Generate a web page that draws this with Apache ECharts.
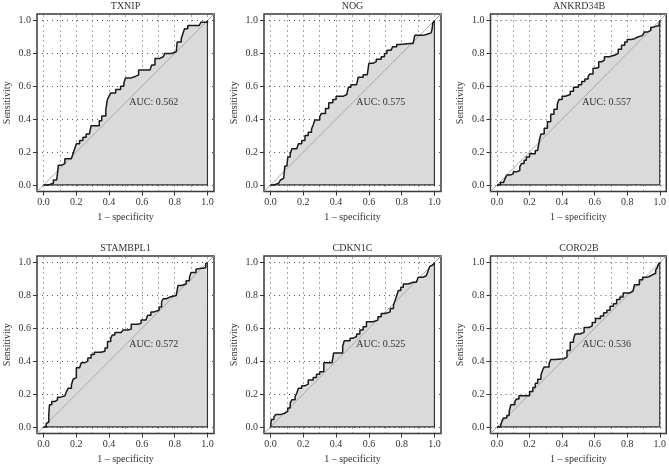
<!DOCTYPE html>
<html><head><meta charset="utf-8">
<script src="https://cdn.jsdelivr.net/npm/echarts@6/dist/echarts.min.js"></script>
<style>html,body{margin:0;padding:0;background:#fff}#c{width:669px;height:469px}</style>
</head><body><div id="c"></div>
<script>
const genes = ['TXNIP', 'NOG', 'ANKRD34B', 'STAMBPL1', 'CDKN1C', 'CORO2B'];
const aucLabels = ['AUC: 0.562', 'AUC: 0.575', 'AUC: 0.557', 'AUC: 0.572', 'AUC: 0.525', 'AUC: 0.536'];
const tickValues = [0, 0.2, 0.4, 0.6, 0.8, 1.0];
const gridXValues = [0, 0.1, 0.2, 0.3, 0.4, 0.5, 0.6, 0.7, 0.8, 0.9, 1.0];
const gridYValues = [0, 0.2, 0.4, 0.6, 0.8, 1.0];

const TXNIP_fpr = [0,0.03,0.06,0.08,0.085,0.09,0.11,0.13,0.17,0.18,0.19,0.2,0.22,0.24,0.26,0.28,0.29,0.32,0.34,0.355,0.38,0.39,0.40,0.41,0.44,0.47,0.49,0.50,0.53,0.56,0.58,0.65,0.66,0.68,0.71,0.73,0.74,0.78,0.79,0.81,0.815,0.84,0.85,0.86,0.88,0.95,0.96,1];
const TXNIP_tpr = [0,0.01,0.03,0.03,0.07,0.12,0.13,0.16,0.16,0.19,0.22,0.25,0.27,0.29,0.31,0.32,0.36,0.36,0.39,0.42,0.46,0.52,0.54,0.56,0.58,0.60,0.62,0.65,0.66,0.67,0.70,0.71,0.73,0.77,0.78,0.79,0.80,0.80,0.81,0.82,0.87,0.89,0.92,0.95,0.97,0.97,0.99,1];

const NOG_fpr = [0,0.02,0.05,0.06,0.07,0.08,0.087,0.10,0.105,0.12,0.13,0.16,0.17,0.19,0.21,0.23,0.25,0.26,0.27,0.3,0.31,0.335,0.355,0.38,0.4,0.445,0.465,0.475,0.49,0.525,0.535,0.565,0.59,0.6,0.625,0.645,0.675,0.695,0.71,0.735,0.745,0.77,0.79,0.85,0.87,0.88,0.93,0.95,0.98,0.985,0.99,1];
const NOG_tpr = [0,0.01,0.01,0.03,0.04,0.05,0.115,0.115,0.17,0.19,0.22,0.22,0.25,0.27,0.30,0.32,0.34,0.365,0.395,0.415,0.435,0.465,0.50,0.52,0.54,0.55,0.56,0.595,0.61,0.62,0.655,0.67,0.68,0.74,0.75,0.765,0.78,0.80,0.82,0.83,0.84,0.855,0.86,0.86,0.87,0.91,0.915,0.925,0.93,0.945,0.985,1];

const ANKRD34B_fpr = [0,0.02,0.04,0.05,0.06,0.08,0.1,0.12,0.14,0.15,0.167,0.18,0.2,0.22,0.235,0.25,0.26,0.27,0.29,0.31,0.33,0.35,0.37,0.38,0.40,0.42,0.45,0.47,0.5,0.52,0.54,0.56,0.57,0.59,0.61,0.625,0.645,0.66,0.69,0.725,0.745,0.765,0.785,0.8,0.825,0.845,0.865,0.895,0.905,0.925,0.945,0.96,0.995,1];
const ANKRD34B_tpr = [0,0.015,0.02,0.04,0.06,0.067,0.08,0.087,0.11,0.13,0.15,0.17,0.19,0.19,0.21,0.22,0.27,0.31,0.345,0.385,0.43,0.46,0.49,0.52,0.54,0.55,0.57,0.595,0.61,0.63,0.645,0.66,0.675,0.71,0.715,0.75,0.76,0.78,0.79,0.80,0.825,0.85,0.87,0.885,0.89,0.90,0.91,0.91,0.93,0.94,0.96,0.97,0.97,1];

const STAMBPL1_fpr = [0,0.016,0.026,0.032,0.036,0.05,0.07,0.085,0.1,0.13,0.14,0.15,0.17,0.18,0.19,0.2,0.22,0.23,0.25,0.27,0.29,0.31,0.35,0.375,0.39,0.41,0.42,0.435,0.475,0.485,0.515,0.535,0.575,0.595,0.625,0.635,0.655,0.675,0.705,0.72,0.73,0.75,0.77,0.81,0.82,0.84,0.87,0.89,0.9,0.93,0.94,0.96,0.975,0.99,1];
const STAMBPL1_tpr = [0,0.02,0.03,0.075,0.135,0.155,0.165,0.18,0.19,0.2,0.215,0.235,0.255,0.29,0.30,0.36,0.37,0.39,0.40,0.42,0.44,0.455,0.46,0.48,0.52,0.54,0.56,0.575,0.58,0.59,0.595,0.625,0.63,0.65,0.66,0.68,0.70,0.71,0.73,0.76,0.78,0.79,0.80,0.80,0.86,0.87,0.89,0.91,0.94,0.96,0.965,0.965,0.97,0.995,1];

const CDKN1C_fpr = [0,0.005,0.02,0.03,0.06,0.09,0.105,0.12,0.13,0.15,0.16,0.17,0.19,0.21,0.23,0.26,0.28,0.3,0.325,0.375,0.385,0.425,0.44,0.45,0.485,0.505,0.525,0.545,0.565,0.585,0.625,0.635,0.655,0.675,0.7,0.73,0.75,0.76,0.77,0.78,0.795,0.81,0.84,0.87,0.89,0.9,0.93,0.95,0.96,0.97,0.98,0.99,1];
const CDKN1C_tpr = [0,0.045,0.06,0.075,0.085,0.095,0.115,0.145,0.165,0.185,0.205,0.235,0.25,0.26,0.285,0.30,0.32,0.335,0.39,0.39,0.45,0.45,0.49,0.525,0.54,0.55,0.565,0.59,0.61,0.64,0.64,0.65,0.67,0.69,0.70,0.72,0.74,0.77,0.80,0.83,0.85,0.87,0.88,0.88,0.89,0.91,0.92,0.925,0.945,0.975,0.985,0.985,1];

const CORO2B_fpr = [0,0.02,0.03,0.04,0.06,0.075,0.085,0.11,0.12,0.135,0.18,0.2,0.22,0.235,0.25,0.27,0.28,0.29,0.32,0.33,0.36,0.41,0.42,0.43,0.45,0.47,0.48,0.51,0.535,0.565,0.585,0.605,0.635,0.655,0.675,0.695,0.715,0.735,0.755,0.775,0.815,0.835,0.845,0.875,0.895,0.92,0.935,0.955,0.975,0.985,0.995,1];
const CORO2B_tpr = [0,0.005,0.035,0.055,0.07,0.095,0.135,0.155,0.17,0.19,0.19,0.215,0.24,0.265,0.29,0.315,0.345,0.365,0.385,0.41,0.415,0.42,0.425,0.465,0.515,0.535,0.565,0.575,0.605,0.615,0.635,0.66,0.675,0.695,0.71,0.735,0.75,0.775,0.79,0.815,0.825,0.835,0.865,0.895,0.91,0.915,0.925,0.935,0.955,0.97,0.995,1];

const curves = [
  [TXNIP_fpr, TXNIP_tpr], [NOG_fpr, NOG_tpr], [ANKRD34B_fpr, ANKRD34B_tpr],
  [STAMBPL1_fpr, STAMBPL1_tpr], [CDKN1C_fpr, CDKN1C_tpr], [CORO2B_fpr, CORO2B_tpr]
];

const FONT = "'Liberation Serif', 'DejaVu Serif', serif";
const TXT = '#333';
const colLeft = [37, 264, 490.5];
const rowTop = [14, 256];
const boxW = 177, boxH = 177.5;

const option = {
  animation: false,
  backgroundColor: '#fff',
  title: [], grid: [], xAxis: [], yAxis: [], series: []
};

genes.forEach((g, i) => {
  const r = Math.floor(i / 3), c = i % 3;
  const L = colLeft[c], T = rowTop[r];
  option.title.push({
    text: g, left: L + boxW / 2, top: T - 14, textAlign: 'center', padding: 0,
    textStyle: { fontFamily: FONT, fontSize: 10, fontWeight: 'normal', color: TXT, lineHeight: 12 }
  });
  option.grid.push({
    left: L, top: T, width: boxW, height: boxH, show: true,
    borderColor: '#3a3a3a', borderWidth: 1.5, backgroundColor: 'transparent'
  });
  option.xAxis.push({
    type: 'value', gridIndex: i, min: -0.04, max: 1.04,
    name: '1 \u2013 specificity', nameLocation: 'middle', nameGap: 21,
    nameTextStyle: { fontFamily: FONT, fontSize: 10, color: TXT },
    axisLine: { show: false, onZero: false },
    axisTick: { show: true, length: 4, customValues: tickValues, lineStyle: { color: '#333', width: 1 } },
    axisLabel: { show: true, customValues: tickValues, margin: 6, formatter: v => v.toFixed(1),
      fontFamily: FONT, fontSize: 10, color: TXT },
    splitLine: { show: false }
  });
  option.yAxis.push({
    type: 'value', gridIndex: i, min: -0.04, max: 1.04,
    name: 'Sensitivity', nameLocation: 'middle', nameGap: 25, nameRotate: 90,
    nameTextStyle: { fontFamily: FONT, fontSize: 10, color: TXT },
    axisLine: { show: false, onZero: false },
    axisTick: { show: true, length: 4, customValues: tickValues, lineStyle: { color: '#333', width: 1 } },
    axisLabel: { show: true, customValues: tickValues, margin: 6, formatter: v => v.toFixed(1),
      fontFamily: FONT, fontSize: 10, color: TXT },
    splitLine: { show: false }
  });
  const pts = curves[i][0].map((x, k) => [x, curves[i][1][k]]);
  // fill under curve
  option.series.push({
    type: 'line', xAxisIndex: i, yAxisIndex: i, data: pts, step: 'end',
    showSymbol: false, symbol: 'none', z: 2, silent: true,
    lineStyle: { width: 0 }, areaStyle: { color: '#dadada', opacity: 1 }
  });
  // diagonal + dotted grid (markLine)
  option.series.push({
    type: 'line', xAxisIndex: i, yAxisIndex: i, data: [[-0.04, -0.04], [1.04, 1.04]],
    showSymbol: false, symbol: 'none', z: 3, silent: true,
    lineStyle: { color: '#a8a8a8', width: 1 },
    markLine: {
      silent: true, z: 1, symbol: ['none', 'none'], label: { show: false },
      lineStyle: { type: [1, 4], color: '#555', width: 1 },
      emphasis: { disabled: true },
      data: gridXValues.map(v => ({ xAxis: v })).concat(gridYValues.map(v => ({ yAxis: v })))
    }
  });
  // polygon border
  option.series.push({
    type: 'line', xAxisIndex: i, yAxisIndex: i, data: [[1, 1], [1, 0], [0, 0]],
    showSymbol: false, symbol: 'none', z: 3, silent: true,
    lineStyle: { color: '#333', width: 1.2 }
  });
  // ROC curve
  option.series.push({
    type: 'line', xAxisIndex: i, yAxisIndex: i, data: pts, step: 'end',
    showSymbol: false, symbol: 'none', z: 4, silent: true,
    lineStyle: { color: '#1a1a1a', width: 1.5 }
  });
  // AUC text
  option.series.push({
    type: 'scatter', xAxisIndex: i, yAxisIndex: i, data: [[0.52, 0.5]],
    symbol: 'circle', symbolSize: 1, itemStyle: { color: 'rgba(0,0,0,0)' }, z: 5, silent: true,
    label: { show: true, position: 'right', distance: 0, formatter: aucLabels[i],
      fontFamily: FONT, fontSize: 10, color: TXT, opacity: 1 }
  });
});

const chart = echarts.init(document.getElementById('c'), null, { renderer: 'canvas' });
chart.setOption(option);
</script></body></html>
